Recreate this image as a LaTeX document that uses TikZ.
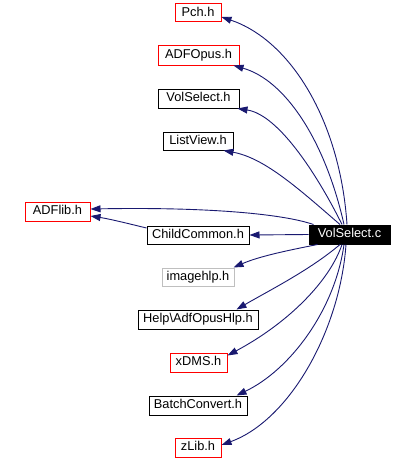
\documentclass[tikz,border=0pt]{standalone}
\usepackage{fontspec}
\setmainfont{Liberation Sans}
\usetikzlibrary{arrows.meta}
\definecolor{edgeblue}{RGB}{25,25,112}
\definecolor{grayborder}{RGB}{191,191,191}
\begin{document}
\begin{tikzpicture}[x=1pt,y=-1pt,
  box/.style={draw=black, line width=1pt, fill=white, inner sep=0pt,
    text height=9.3pt, text depth=2.7pt, font=\fontsize{12.8}{14}\selectfont},
  redbox/.style={box, draw=red},
  graybox/.style={box, draw=grayborder},
  mainbox/.style={box, fill=black, text=white},
  dep/.style={draw=edgeblue, line width=0.9pt, -{Triangle[length=10pt,width=7pt]}}]
\useasboundingbox (0,0) rectangle (415,460);

\node[redbox, minimum width=46pt, minimum height=18pt] (pc) at (198,13) {Pch.h};
\node[redbox, minimum width=81pt, minimum height=19pt] (ao) at (198.5,55.5) {ADFOpus.h};
\node[box, minimum width=81pt, minimum height=19pt] (vh) at (198.5,98.5) {VolSelect.h};
\node[box, minimum width=70pt, minimum height=18pt] (lv) at (198,141) {ListView.h};
\node[redbox, minimum width=65pt, minimum height=19pt] (al) at (57.5,211.5) {ADFlib.h};
\node[box, minimum width=102pt, minimum height=18pt] (cc) at (198,235) {ChildCommon.h};
\node[mainbox, minimum width=81pt, minimum height=19pt] (vc) at (349.5,234.5) {VolSelect.c};
\node[graybox, minimum width=72pt, minimum height=18pt] (ih) at (198,277) {imagehlp.h};
\node[box, minimum width=120pt, minimum height=19pt] (hp) at (198,319.5) {Help\textbackslash AdfOpusHlp.h};
\node[redbox, minimum width=57pt, minimum height=19pt] (xd) at (198.5,362.5) {xDMS.h};
\node[box, minimum width=98pt, minimum height=19pt] (bc) at (198,405.5) {BatchConvert.h};
\node[redbox, minimum width=46pt, minimum height=19pt] (zl) at (198,447.5) {zLib.h};

% upper edges
\draw[dep] ([xshift=-2.5pt]vc.north) .. controls (340,120) and (290,40) .. ([yshift=-4pt]pc.east);
\draw[dep] ([xshift=-5.5pt]vc.north) .. controls (325,140) and (285,80) .. ([xshift=-6pt]ao.south east);
\draw[dep] ([xshift=-7.5pt]vc.north) .. controls (320,180) and (280,115) .. ([xshift=-2pt]vh.south east);
\draw[dep] ([xshift=-9.5pt]vc.north) .. controls (300,190) and (265,158) .. ([xshift=-10pt]lv.south east);
\draw[dep] ([xshift=5pt]vc.north west) .. controls (280,213) and (200,207) .. ([yshift=2.5pt]al.east);
% middle
\draw[dep] (vc.west) -- (cc.east);
\draw[dep] ([yshift=7pt]cc.west) .. controls (130,224) and (110,219) .. ([yshift=-4.5pt]al.east);
% lower edges
\draw[dep] ([xshift=9pt]vc.south west) .. controls (290,250) and (260,256) .. ([xshift=-1pt]ih.north east);
\draw[dep] ([xshift=-9.5pt]vc.south) .. controls (310,270) and (270,290) .. ([xshift=-22pt]hp.north east);
\draw[dep] ([xshift=-7.5pt]vc.south) .. controls (330,280) and (290,322) .. ([yshift=7pt]xd.east);
\draw[dep] ([xshift=-5.5pt]vc.south) .. controls (335,310) and (290,370) .. ([xshift=-11pt]bc.north east);
\draw[dep] ([xshift=-3.5pt]vc.south) .. controls (340,330) and (290,420) .. ([yshift=2.5pt]zl.east);
\end{tikzpicture}
\end{document}
